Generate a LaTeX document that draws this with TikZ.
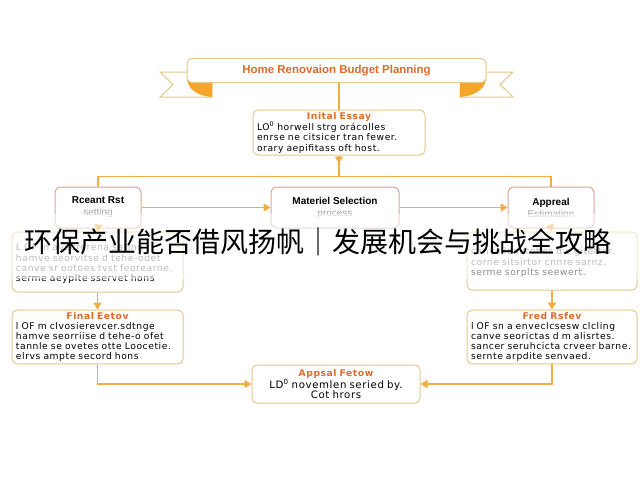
\documentclass[tikz,border=0pt]{standalone}
\usepackage{fontspec}
\setmainfont{Liberation Sans}
\newfontfamily\bodyfont[LetterSpace=6]{DejaVu Sans}
\newfontfamily\cjk{Noto Sans CJK SC}
\usetikzlibrary{arrows.meta,positioning}
\definecolor{lineorange}{HTML}{F2AE45}
\definecolor{boxtan}{HTML}{E6C88E}
\definecolor{titlered}{HTML}{E06A2C}
\definecolor{foldorange}{HTML}{F5A52A}
\definecolor{stepedge}{HTML}{D9A796}
\newcommand{\boxhead}[1]{\makebox[\linewidth][c]{\textcolor{titlered}{\bfseries #1}}}
\tikzset{
  infobox/.style={draw=boxtan, line width=1pt, rounded corners=5pt, fill=white,
    align=left, inner xsep=4pt, inner ysep=2pt, font=\bodyfont\fontsize{9.2}{10.2}\selectfont},
  stepbox/.style={draw=stepedge, line width=1pt, rounded corners=6pt, fill=white,
    align=center, minimum height=41pt, font=\fontsize{10}{12}\selectfont\bfseries},
  link/.style={draw=lineorange, line width=1.6pt},
  flow/.style={link, -{Triangle[length=7pt,width=8pt]}},
}
\begin{document}
\begin{tikzpicture}[x=1pt, y=-1pt]
  \fill[white] (0,0) rectangle (640,480);
  \useasboundingbox (0,0) rectangle (640,480);
  % ribbon tails and folds
  \filldraw[draw=boxtan, fill=white, line width=1pt] (160,72) -- (212,72) -- (212,97) -- (160,97) -- (173,84.5) -- cycle;
  \filldraw[draw=boxtan, fill=white, line width=1pt] (513,72) -- (460,72) -- (460,97) -- (513,97) -- (500,84.5) -- cycle;
  \fill[foldorange] (187,80) -- (212,80) -- (212,97) .. controls (198,96) and (189,90) .. (187,80) -- cycle;
  \fill[foldorange] (486,80) -- (460,80) -- (460,97) .. controls (474,96) and (484,90) .. (486,80) -- cycle;
  \node[draw=boxtan, line width=1pt, rounded corners=5pt, fill=white, minimum width=299pt, minimum height=24pt,
    text=titlered, font=\fontsize{11.5}{13}\selectfont\bfseries] (banner) at (336.5,70.5) {Home Renovaion Budget Planning};

  \node[infobox, text width=164pt, minimum height=45pt] (initial) at (339,132.5)
    {\boxhead{Inital Essay}\\ LO\textsuperscript{0} horwell strg orácolles\\ enrse ne citsicer tran fewer.\\ orary aepifitass oft host.};
  \path (initial.south) ++(0,21) coordinate (hub);

  \node[stepbox, minimum width=86pt] (rceant) at (98,207.5) {Rceant Rst\\{\mdseries\color{gray!70} setting}};
  \node[stepbox, minimum width=128pt] (material) at (335,207.5) {Materiel Selection\\{\mdseries\color{gray!70} process}};
  \node[stepbox, minimum width=86pt] (appreal) at (551,207.5) {Appreal\\{\mdseries\color{gray!70} Estimation}};

  \node[infobox, text width=163pt, minimum height=60pt, text=gray!85!black] (noteL) at (97.5,262)
    {\\ L OF in avecrerena sating\\ hamve seorvitse d tehe-odet\\ canve sr ootoes tvst feorearne.\\ \textcolor{black}{serme aeyplte sservet hons}};
  \node[infobox, text width=162pt, minimum height=58pt, text=gray!85!black] (noteR) at (552,261)
    {\\ canve lenvtohes d e giterter.\\ corne sitsirtor cnnre sarnz.\\ \textcolor{black}{serme sorplts seewert.}};

  \node[infobox, text width=163pt, minimum height=50pt] (finalL) at (97.5,337)
    {\boxhead{Final Eetov}\\ l OF m clvosierevcer.sdtnge\\ hamve seorriise d tehe-o ofet\\ tannle se ovetes otte Loocetie.\\ elrvs ampte secord hons};
  \node[infobox, text width=162pt, minimum height=50pt] (finalR) at (552,337)
    {\boxhead{Fred Rsfev}\\ l OF sn a enveclcsesw clcling\\ canve seorictas d m alisrtes.\\ sancer seruhcicta crveer barne.\\ sernte arpdite senvaed.};

  \node[infobox, text width=160pt, minimum height=38pt, align=center] (appraisal) at (336,384)
    {\textcolor{titlered}{\bfseries Appsal Fetow}\\ \fontsize{10.2}{12}\selectfont LD\textsuperscript{0} novemlen seried by.\\ \fontsize{10.2}{12}\selectfont Cot hrors};

  % connectors
  \draw[link] (banner.south -| initial.north) -- (initial.north);
  \draw[link] (initial.south) -- (hub);
  \draw[flow] (initial.south) -- ++(0,8);
  \draw[link] (rceant.north) |- (hub) -| (appreal.north);
  \foreach \a/\b in {rceant/material, material/appreal}
    \draw[flow] (\a.east) -- (\b.west);
  \foreach \a/\b in {rceant/noteL, appreal/noteR, noteL/finalL, noteR/finalR}
    \draw[flow] (\a.south) -- (\b.north);
  \draw[flow] (finalL.south) |- (appraisal.west);
  \draw[flow] (finalR.south) |- (appraisal.east);

  % overlay caption
  \fill[white, opacity=0.55] (0,214) rectangle (640,279);
  \node[font=\cjk\fontsize{28}{30}\selectfont, inner sep=0pt] (caption) at (318,242) {环保产业能否借风扬帆｜发展机会与挑战全攻略};
\end{tikzpicture}
\end{document}
